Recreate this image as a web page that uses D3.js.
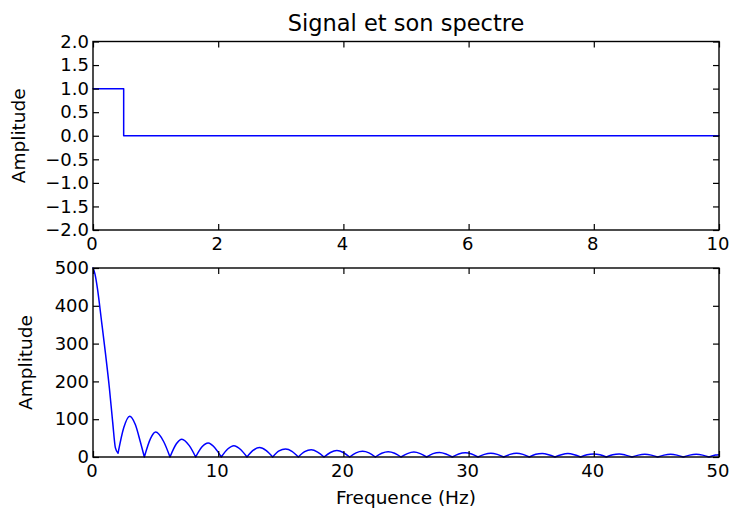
<!DOCTYPE html>
<html>
<head>
  <script src="https://d3js.org/d3.v7.min.js"></script>
  <style>
    body {
      margin: 0;
      background: #fff;
    }
    svg {
      font-family: "DejaVu Sans", sans-serif;
    }
    .axis text {
      font-size: 18px;
      fill: #000;
    }
    .axis line {
      stroke: #000;
      stroke-width: 1.2;
    }
    .frame {
      fill: none;
      stroke: #000;
      stroke-width: 1.4;
    }
    .line {
      fill: none;
      stroke: #0000ff;
      stroke-width: 1.5;
      stroke-linejoin: round;
      stroke-linecap: round;
    }
    .title-text {
      font-size: 22.5px;
      fill: #000;
    }
    .label-text {
      font-size: 18.5px;
      fill: #000;
    }
  </style>
</head>
<body>
<div id="chart"></div>
<script>
/* Data: the pulse (top) */
var sigTime = [0, 0.49, 0.49, 10];
var sigAmp = [1, 1, 0, 0];

/* Data: its spectrum (bottom) */
var specFreq = [
  0, 0.15, 0.35, 0.69, 1.01, 1.31, 1.57, 1.79, 2.0,
  2.46, 2.93, 3.38, 3.79, 4.10,
  4.61, 5.0, 5.64, 6.15,
  6.66, 7.1, 7.69, 8.20,
  8.71, 9.2, 9.74, 10.25,
  10.76, 11.25, 11.79, 12.30,
  12.81, 13.3, 13.84, 14.35,
  14.86, 15.38, 15.89, 16.40,
  16.91, 17.43, 17.94, 18.45,
  18.96, 19.48, 19.99, 20.50,
  21.01, 21.53, 22.04, 22.55,
  23.06, 23.58, 24.09, 24.60,
  25.11, 25.63, 26.14, 26.65,
  27.16, 27.68, 28.19, 28.70,
  29.21, 29.73, 30.24, 30.75,
  31.26, 31.78, 32.29, 32.80,
  33.31, 33.83, 34.34, 34.85,
  35.36, 35.88, 36.39, 36.90,
  37.41, 37.93, 38.44, 38.95,
  39.46, 39.98, 40.49, 41.00,
  41.51, 42.03, 42.54, 43.05,
  43.56, 44.08, 44.59, 45.10,
  45.61, 46.13, 46.64, 47.15,
  47.66, 48.18, 48.69, 49.20,
  49.71, 50.00
];
var specAmp = [
  500, 485, 447, 357, 270, 182, 93, 24, 10,
  78, 108, 86, 39, 0,
  50, 66, 41, 0,
  35, 47, 30, 0,
  27, 37, 24, 0,
  21, 30, 20, 0,
  18, 25, 17, 0,
  16, 21, 15, 0,
  14, 19, 13, 0,
  12, 17, 12, 0,
  11, 15, 11, 0,
  10, 14, 10, 0,
  9, 13, 9, 0,
  9, 12, 8, 0,
  8, 11, 8, 0,
  7, 10, 7, 0,
  7, 10, 7, 0,
  7, 9, 6, 0,
  6, 9, 6, 0,
  6, 8, 6, 0,
  6, 8, 5, 0,
  5, 7, 5, 0,
  5, 7, 5, 0,
  5, 7, 5, 0,
  5, 6
];

/* Ticks */
var sigXTicks = [0, 2, 4, 6, 8, 10];
var sigYTicks = [-2, -1.5, -1, -0.5, 0, 0.5, 1, 1.5, 2];
var sigYLabels = ["\u22122.0", "\u22121.5", "\u22121.0", "\u22120.5", "0.0", "0.5", "1.0", "1.5", "2.0"];
var specXTicks = [0, 10, 20, 30, 40, 50];
var specYTicks = [0, 100, 200, 300, 400, 500];

var titleText = "Signal et son spectre";
var yLabelText = "Amplitude";
var xLabelText = "Frequence (Hz)";

var width = 730;
var height = 512;
var left = 93, right = 719;
var topPanel = {y0: 41.5, y1: 230};
var botPanel = {y0: 268, y1: 457};
var tickLen = 6;
var xPad = 7.5;
var yPad = 4;

var svg = d3.select("#chart").append("svg")
  .attr("width", width)
  .attr("height", height);

/* Scales */
var xSig = d3.scaleLinear().domain([0, 10]).range([left, right]);
var ySig = d3.scaleLinear().domain([-2, 2]).range([topPanel.y1, topPanel.y0]);
var xSpec = d3.scaleLinear().domain([0, 50]).range([left, right]);
var ySpec = d3.scaleLinear().domain([0, 500]).range([botPanel.y1, botPanel.y0]);

function drawAxes(x, y, panel, xTicks, yTicks, yFormat) {
  var g = svg.append("g");
  // bottom + top
  g.append("g")
    .attr("class", "axis")
    .attr("transform", `translate(0, ${panel.y1})`)
    .call(d3.axisBottom(x).tickValues(xTicks).tickSize(-tickLen).tickPadding(xPad).tickFormat(d3.format("d")))
    .call(a => a.select(".domain").remove())
    .call(a => a.selectAll("text").attr("dx", -1.5));
  g.append("g")
    .attr("class", "axis")
    .attr("transform", `translate(0, ${panel.y0})`)
    .call(d3.axisTop(x).tickValues(xTicks).tickSize(-tickLen).tickFormat(""))
    .call(a => a.select(".domain").remove());
  // left + right
  g.append("g")
    .attr("class", "axis")
    .attr("transform", `translate(${left}, 0)`)
    .call(d3.axisLeft(y).tickValues(yTicks).tickSize(-tickLen).tickPadding(yPad).tickFormat(yFormat))
    .call(a => a.select(".domain").remove());
  g.append("g")
    .attr("class", "axis")
    .attr("transform", `translate(${right}, 0)`)
    .call(d3.axisRight(y).tickValues(yTicks).tickSize(-tickLen).tickFormat(""))
    .call(a => a.select(".domain").remove());
  g.append("rect")
    .attr("class", "frame")
    .attr("x", left)
    .attr("y", panel.y0)
    .attr("width", right - left)
    .attr("height", panel.y1 - panel.y0);
  g.selectAll(".axis text").attr("font-family", "DejaVu Sans");
}

/* Top: signal */
var sigLine = d3.line()
  .x((d, i) => xSig(sigTime[i]))
  .y((d, i) => ySig(sigAmp[i]));

svg.append("path")
  .attr("class", "line")
  .attr("d", sigLine(sigTime));

drawAxes(xSig, ySig, topPanel, sigXTicks, sigYTicks, (d, i) => sigYLabels[i]);

/* Bottom: spectrum, one smooth arch per lobe so the dips stay sharp */
var specPts = specFreq.map((f, i) => [f, specAmp[i]]);
var lobes = [];
var cur = [specPts[0]];
for (var i = 1; i < specPts.length; i++) {
  cur.push(specPts[i]);
  var isDip = i < specPts.length - 1 && specAmp[i] < specAmp[i - 1] && specAmp[i] <= specAmp[i + 1];
  if (isDip) {
    lobes.push(cur);
    cur = [specPts[i]];
  }
}
lobes.push(cur);

var specLine = d3.line()
  .x(d => xSpec(d[0]))
  .y(d => ySpec(d[1]))
  .curve(d3.curveMonotoneX);

svg.append("path")
  .attr("class", "line")
  .attr("d", lobes.map(l => specLine(l)).join(""));

drawAxes(xSpec, ySpec, botPanel, specXTicks, specYTicks, d3.format("d"));

/* Texts */
svg.append("text")
  .attr("class", "title-text")
  .attr("text-anchor", "middle")
  .attr("x", (left + right) / 2)
  .attr("y", 31)
  .text(titleText);

svg.append("text")
  .attr("class", "label-text")
  .attr("text-anchor", "middle")
  .attr("transform", `translate(${left - 68}, ${(topPanel.y0 + topPanel.y1) / 2}) rotate(-90)`)
  .text(yLabelText);

svg.append("text")
  .attr("class", "label-text")
  .attr("text-anchor", "middle")
  .attr("transform", `translate(${left - 61}, ${(botPanel.y0 + botPanel.y1) / 2}) rotate(-90)`)
  .text(yLabelText);

svg.append("text")
  .attr("class", "label-text")
  .attr("text-anchor", "middle")
  .attr("x", (left + right) / 2)
  .attr("y", 504)
  .text(xLabelText);
</script>
</body>
</html>
